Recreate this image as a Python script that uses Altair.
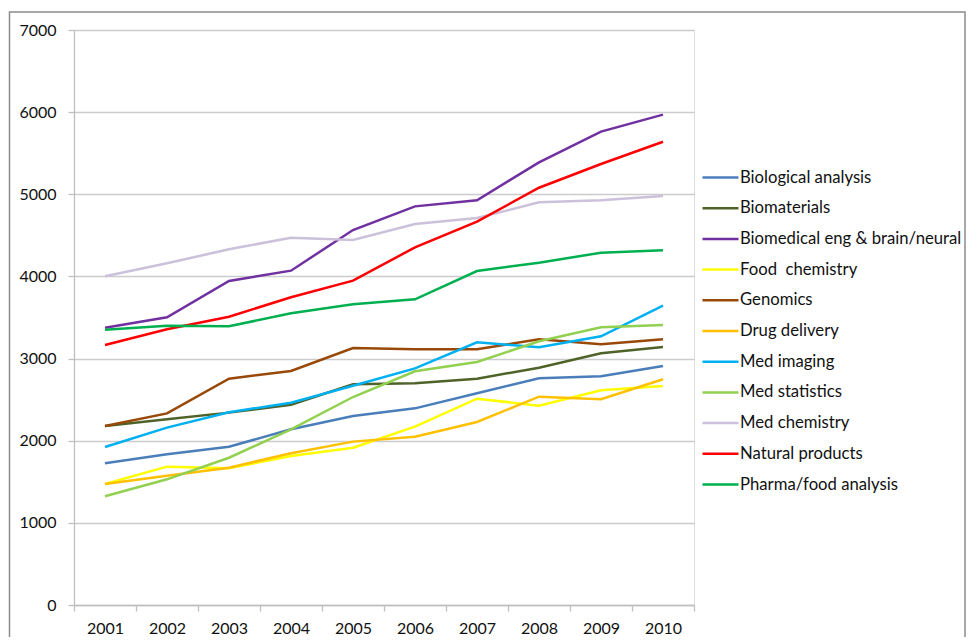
import altair as alt
import pandas as pd

years = ["2001", "2002", "2003", "2004", "2005", "2006", "2007", "2008", "2009", "2010"]

series_names = [
    "Biological analysis",
    "Biomaterials",
    "Biomedical eng & brain/neural",
    "Food \u00a0chemistry",
    "Genomics",
    "Drug delivery",
    "Med imaging",
    "Med statistics",
    "Med chemistry",
    "Natural products",
    "Pharma/food analysis",
]

biological_analysis = [1725, 1834, 1927, 2139, 2301, 2394, 2577, 2760, 2784, 2910]
biomaterials = [2179, 2260, 2342, 2439, 2687, 2700, 2755, 2889, 3064, 3141]
biomedical_eng = [3376, 3502, 3944, 4070, 4565, 4853, 4927, 5389, 5763, 5970]
food_chemistry = [1473, 1684, 1664, 1814, 1915, 2171, 2512, 2427, 2613, 2666]
genomics = [2179, 2333, 2755, 2849, 3129, 3113, 3113, 3235, 3174, 3235]
drug_delivery = [1473, 1574, 1672, 1847, 1989, 2049, 2228, 2536, 2504, 2748]
med_imaging = [1924, 2159, 2346, 2463, 2670, 2881, 3198, 3137, 3271, 3644]
med_statistics = [1323, 1530, 1793, 2139, 2532, 2845, 2958, 3210, 3381, 3409]
med_chemistry = [4001, 4160, 4330, 4472, 4444, 4638, 4711, 4902, 4927, 4979]
natural_products = [3165, 3356, 3510, 3746, 3948, 4354, 4667, 5080, 5369, 5640]
pharma_food = [3352, 3400, 3393, 3551, 3661, 3722, 4066, 4167, 4289, 4318]

series_values = [
    biological_analysis, biomaterials, biomedical_eng, food_chemistry, genomics,
    drug_delivery, med_imaging, med_statistics, med_chemistry, natural_products, pharma_food,
]

colors = [
    "#4A7EBB", "#4F6228", "#7030A0", "#FFFF00", "#984807", "#FFC000",
    "#00B0F0", "#92D050", "#CCC1DA", "#FF0000", "#00B050",
]

y_ticks = [0, 1000, 2000, 3000, 4000, 5000, 6000, 7000]

rows = []
for i, (name, vals) in enumerate(zip(series_names, series_values)):
    for y, v in zip(years, vals):
        rows.append({"Year": y, "Series": name, "Value": v, "order": i})
df = pd.DataFrame(rows)

FONT = "Lato"

lines = alt.Chart(df).mark_line(strokeWidth=2.5).encode(
    x=alt.X(
        "Year:N",
        sort=years,
        scale=alt.Scale(paddingInner=0, paddingOuter=0),
        axis=alt.Axis(
            title=None, labelAngle=0, tickBand="extent", tickSize=6,
            labelPadding=9, labelFontSize=16, labelFont=FONT, labelColor="#111",
            domainColor="#BFBFBF", tickColor="#BFBFBF", domainWidth=1.3, tickWidth=1.3,
            grid=False,
        ),
    ),
    y=alt.Y(
        "Value:Q",
        scale=alt.Scale(domain=[0, 7000], nice=False),
        axis=alt.Axis(
            title=None, values=y_ticks, format="d", tickSize=6, labelPadding=12,
            labelFontSize=16, labelFont=FONT, labelColor="#111",
            domainColor="#BFBFBF", tickColor="#BFBFBF", domainWidth=1.3, tickWidth=1.3,
            grid=True, gridColor="#CCCCCC", gridWidth=1.3,
        ),
    ),
    color=alt.Color(
        "Series:N",
        sort=series_names,
        scale=alt.Scale(domain=series_names, range=colors),
        legend=alt.Legend(
            title=None, orient="none", legendX=627, legendY=137,
            symbolType="M-1,0L3,0", symbolSize=324, symbolStrokeWidth=2.5,
            labelFont=FONT, labelFontSize=16.7, labelColor="#111",
            labelOffset=18, rowPadding=10.7, padding=0, labelLimit=400,
        ),
    ),
    order=alt.Order("order:Q"),
    detail="Series:N",
)

frame = alt.Chart(pd.DataFrame({"a": [0]})).mark_rect(
    fill=None, stroke="#8C8C8C", strokeWidth=1.5
).encode(
    x=alt.value(-64.5), x2=alt.value(891), y=alt.value(-18), y2=alt.value(700)
)

chart = alt.layer(frame, lines).properties(
    width=620,
    height=575,
    autosize=alt.AutoSizeParams(type="none"),
    padding={"left": 66, "top": 22, "right": 272, "bottom": 32},
).configure_view(stroke=None).configure(background="white")

chart.save("out.html", embed_options={"renderer": "svg", "actions": False})
